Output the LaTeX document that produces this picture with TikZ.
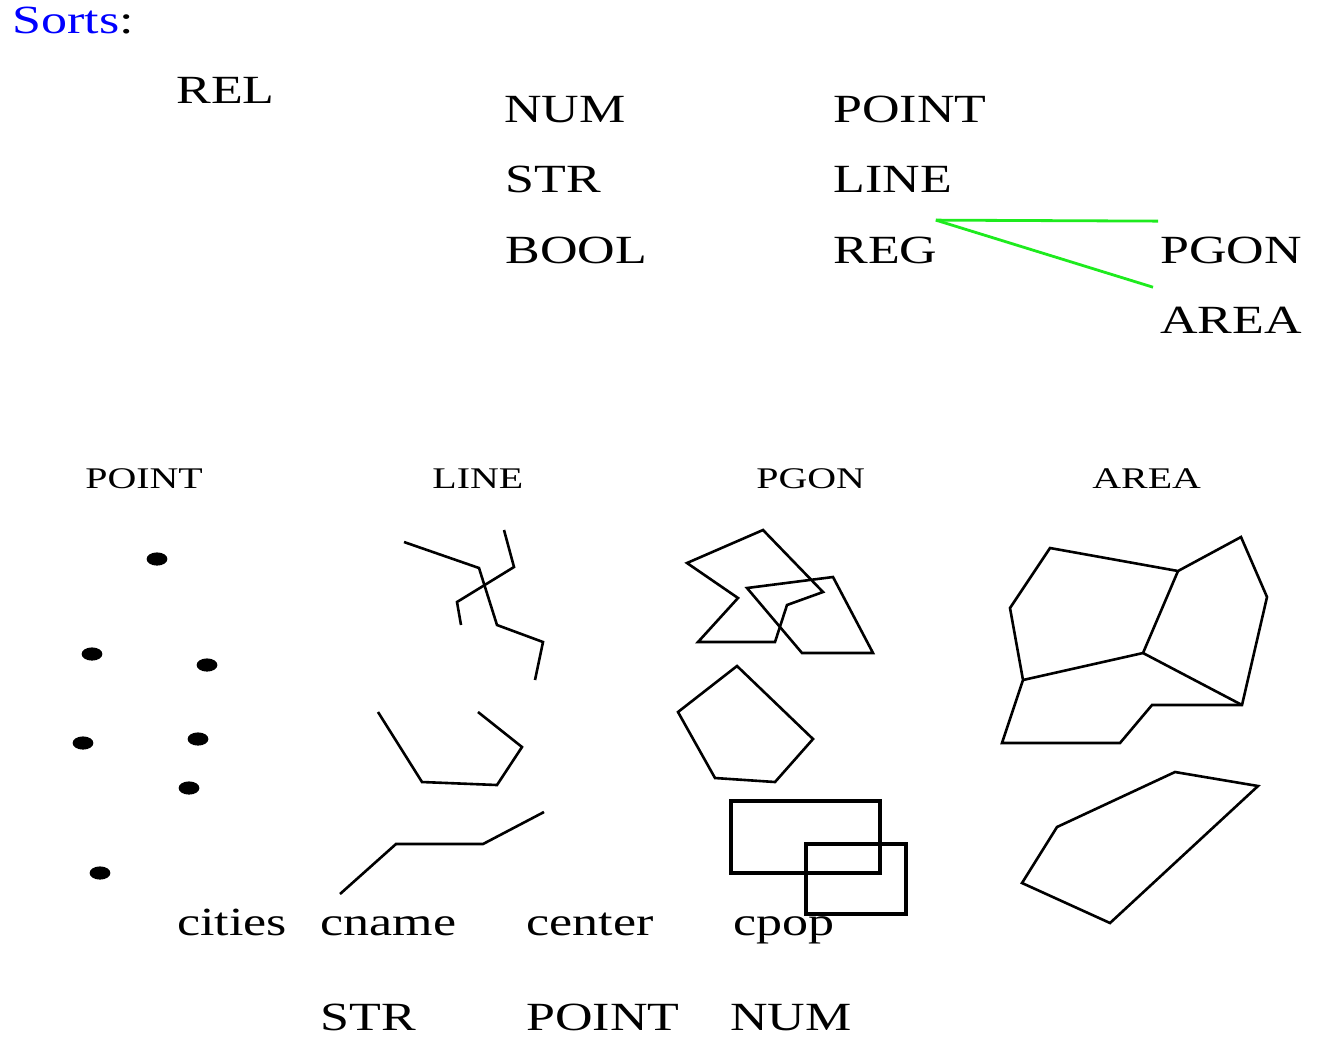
\documentclass[tikz,border=0pt]{standalone}
\usepackage{fontspec}
\usepackage{xcolor}
\newfontfamily\diagserif[FakeStretch=1.3]{Liberation Serif}
\newfontfamily\diagserifsmall[FakeStretch=1.33]{Liberation Serif}
\newcommand\bigtxt{\diagserif\fontsize{20pt}{24pt}\selectfont}
\newcommand\smalltxt{\diagserifsmall\fontsize{15pt}{18pt}\selectfont}
\definecolor{sortsblue}{RGB}{0,0,255}
\definecolor{linkgreen}{RGB}{30,235,30}
\tikzset{
  lbl/.style={inner sep=0pt, anchor=base west, font=\bigtxt},
  slbl/.style={inner sep=0pt, anchor=base west, font=\smalltxt},
  shp/.style={line width=1.3pt, line join=miter},
  rectshp/.style={line width=2pt},
  dot/.style={fill=black},
  link/.style={draw=linkgreen, line width=1.4pt}
}
\begin{document}
\begin{tikzpicture}[x=0.5pt,y=-0.5pt]
\path[use as bounding box] (0,0) rectangle (1326,1051);

% top labels
\node[lbl] (sorts) at (12,33) {\textcolor{sortsblue}{Sorts}:};
\node[lbl] (rel) at (176,103) {REL};
\node[lbl] (num) at (504,122) {NUM};
\node[lbl] (str) at (505,192) {STR};
\node[lbl] (bool) at (505,263) {BOOL};
\node[lbl] (point) at (833,122) {POINT};
\node[lbl] (line) at (833,192) {LINE};
\node[lbl] (reg) at (833,263) {REG};
\node[lbl] (pgon) at (1160,263) {PGON};
\node[lbl] (area) at (1160,333) {AREA};

% green links
\draw[link] ([xshift=-1pt,yshift=8pt]reg.north east) -- ([xshift=-1pt,yshift=7.5pt]pgon.north west);
\draw[link] ([xshift=-1pt,yshift=8pt]reg.north east) -- ([xshift=-3.5pt,yshift=9.5pt]area.north west);

% lower headings
\node[slbl] (lpoint) at (85,488) {POINT};
\node[slbl] (lline) at (432,488) {LINE};
\node[slbl] (lpgon) at (756,488) {PGON};
\node[slbl] (larea) at (1092,488) {AREA};

% points
\foreach \p in {(157,559),(92,654),(207,665),(83,743),(198,739),(189,788),(100,873)}
  \fill[dot] \p ellipse [x radius=5.2pt, y radius=3.3pt];

% lines
\draw[shp] (404,542) -- (479,568) -- (497,625) -- (543,642) -- (535,680);
\draw[shp] (504,530) -- (514,567) -- (457,602) -- (461,625);
\draw[shp] (378,712) -- (422,782) -- (497,785) -- (522,747) -- (478,712);
\draw[shp] (340,894) -- (396,844) -- (483,844) -- (544,812);

% polygons
\draw[shp] (763,530) -- (823,592) -- (787,605) -- (775,642) -- (698,642) -- (738,598) -- (687,563) -- cycle;
\draw[shp] (747,588) -- (833,577) -- (873,653) -- (802,653) -- cycle;
\draw[shp] (737,666) -- (813,739) -- (775,782) -- (715,778) -- (678,712) -- cycle;
\draw[rectshp] (731,801) rectangle (880,873);
\draw[rectshp] (806,844) rectangle (906,914);

% areas
\draw[shp] (1050,548) -- (1178,571) -- (1241,537) -- (1267,597) -- (1242,705) -- (1152,705) -- (1120,743) -- (1002,743) -- (1023,680) -- (1010,608) -- cycle;
\draw[shp] (1023,680) -- (1143,653) -- (1178,571);
\draw[shp] (1143,653) -- (1242,705);
\draw[shp] (1175,772) -- (1258,786) -- (1110,923) -- (1022,883) -- (1057,827) -- cycle;

% relation schema
\node[lbl] (cities) at (177,935) {cities};
\node[lbl] (cname) at (320,935) {cname};
\node[lbl] (center) at (526,935) {center};
\node[lbl] (cpop) at (733,935) {cpop};
\node[lbl] (str2) at (320,1030) {STR};
\node[lbl] (point2) at (526,1030) {POINT};
\node[lbl] (num2) at (730,1030) {NUM};
\end{tikzpicture}
\end{document}
